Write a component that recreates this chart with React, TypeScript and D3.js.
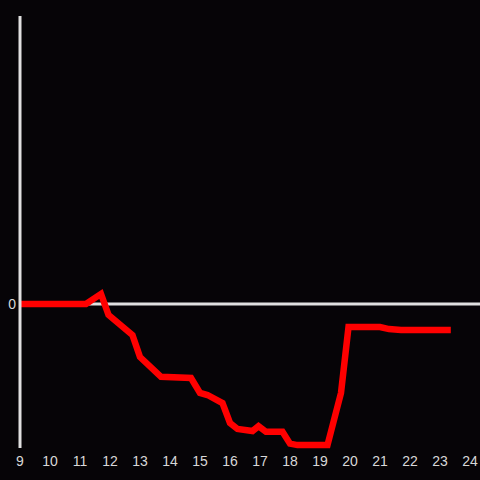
import React from "react";
import * as d3 from "d3";

const xTicks = [9, 10, 11, 12, 13, 14, 15, 16, 17, 18, 19, 20, 21, 22, 23, 24];
const yTicks = [0];
const hours = [9, 11.2, 11.7, 11.95, 12.75, 13.0, 13.7, 14.7, 15.0, 15.25, 15.75, 16.0, 16.25, 16.75, 16.95, 17.2, 17.75, 18.0, 18.25, 19.25, 19.7, 19.95, 21.0, 21.3, 21.7, 23.36];
const values = [0, 0, 3.5, -3.8, -10.8, -18.4, -25.3, -25.7, -30.9, -31.6, -34.4, -41.3, -43.4, -44.1, -42.4, -44.4, -44.4, -48.5, -49.0, -49.0, -30.9, -8.0, -8.0, -8.7, -9.0, -9.0];

export default function App() {
  const W = 480, H = 480;
  const x = d3.scaleLinear().domain([9, 24]).range([20, 470]);
  const y = d3.scaleLinear().domain([-50, 100]).range([448, 16]);
  const pts: [number, number][] = hours.map((h, i) => [h, values[i]]);
  const line = d3.line<[number, number]>().x(d => x(d[0])).y(d => y(d[1]));
  const axisColor = "#e0e0e0";
  return (
    <svg width={W} height={H} style={{ position: "absolute", left: 0, top: 0, display: "block", background: "#060407" }}>
      <rect x={0} y={0} width={W} height={H} fill="#060407" />
      {yTicks.map(t => (
        <g key={t}>
          <line x1={x(9)} x2={W} y1={y(t)} y2={y(t)} stroke={axisColor} strokeWidth={3} />
          <text x={x(9) - 4} y={y(t)} dy="0.35em" textAnchor="end" fill="#d8d8d8" fontFamily="Liberation Sans, Arial, sans-serif" fontSize={14}>{t}</text>
        </g>
      ))}
      {xTicks.map(t => (
        <text key={t} x={x(t)} y={466} textAnchor="middle" fill="#d8d8d8" fontFamily="Liberation Sans, Arial, sans-serif" fontSize={14}>{t}</text>
      ))}
      <path d={line(pts) || ""} fill="none" stroke="#ff0000" strokeWidth={6.5} strokeLinejoin="miter" strokeLinecap="butt" />
      <line x1={x(9)} x2={x(9)} y1={y(100)} y2={y(-50)} stroke={axisColor} strokeWidth={3} />
    </svg>
  );
}
